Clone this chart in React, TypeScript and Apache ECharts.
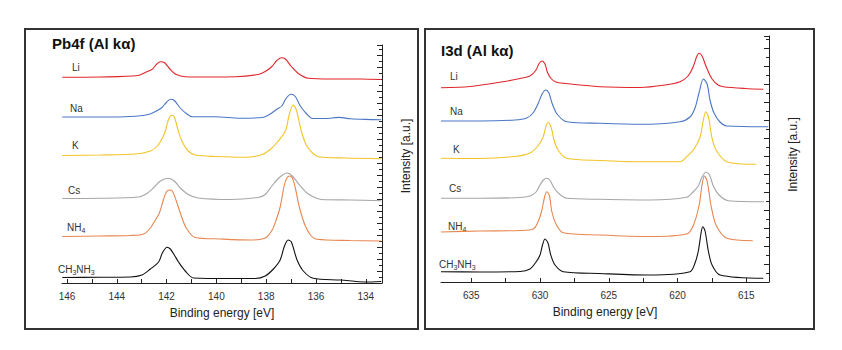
import React, { useEffect, useRef } from "react";
import * as echarts from "echarts";

// ---------- data ----------
const seriesNames = ["Li", "Na", "K", "Cs", "NH4", "CH3NH3"];
const seriesRich = ["{a|Li}", "{a|Na}", "{a|K}", "{a|Cs}", "{a|NH}{s|4}", "{a|CH}{s|3}{a|NH}{s|3}"];
const seriesColors = ["#e0262b", "#4a76c6", "#f2c428", "#a6a6a6", "#e8864f", "#111111"];

// Pb4f panel: [binding energy eV, intensity a.u. (stacked offset)]
const pbLi = [[146.19,205.7],[144.66,206],[143.14,207.5],[142.82,211],[142.59,213.5],[142.41,218.5],[142.25,221.3],[142.09,220.5],[141.85,213.5],[141.61,208.5],[141.25,206.3],[140.24,206],[139.24,206.2],[138.32,208.5],[138.04,211.5],[137.77,216.5],[137.59,222],[137.39,225.3],[137.23,224],[136.99,216.5],[136.71,209.5],[136.31,204.7],[135.43,204],[134.22,204],[133.38,203.5]];
const pbNa = [[146.19,166],[144.66,166],[143.46,166.5],[142.73,168.5],[142.45,171.5],[142.21,175],[142.01,180.5],[141.84,183.7],[141.69,182.5],[141.45,175],[141.21,169.5],[140.97,166.3],[140.04,166.3],[139.04,164.8],[138.16,165.5],[137.84,169],[137.59,173.5],[137.37,177],[137.19,185],[137.0,188.7],[136.83,186.5],[136.63,177],[136.39,169.5],[136.14,164.5],[135.62,164.5],[135.10,165.6],[134.62,164.3],[134.02,163.6],[133.38,163.3]];
const pbK = [[146.19,127.5],[144.66,128],[143.26,129],[142.65,132],[142.37,137],[142.17,145],[142.05,152],[141.93,163],[141.80,167.7],[141.69,166],[141.53,152],[141.37,141],[141.13,132],[140.85,128],[140.04,126.5],[138.84,125.7],[138.16,128.5],[137.84,133.5],[137.55,141],[137.23,152],[137.07,169],[136.92,178],[136.79,173],[136.59,152],[136.39,138],[136.14,130],[135.90,126.3],[134.82,125],[133.38,124.3]];
const pbCs = [[146.19,84.5],[144.66,84.7],[143.14,86],[142.82,89],[142.53,95],[142.25,102],[141.94,104.7],[141.69,102],[141.45,95],[141.13,88.5],[140.73,85],[139.44,83.5],[138.32,85.5],[138.04,88.5],[137.77,97],[137.47,105.5],[137.16,110],[136.95,107],[136.63,97],[136.31,89],[135.76,83.5],[134.62,83],[133.38,82.3]];
const pbNH4 = [[146.19,46.5],[144.66,47],[143.46,47.5],[142.92,49],[142.65,55],[142.45,63],[142.29,70],[142.13,83],[142.01,91],[141.89,93],[141.77,92],[141.61,82],[141.45,70],[141.21,55],[140.85,45.5],[139.84,44],[138.64,43],[138.04,45],[137.76,53],[137.60,63],[137.44,76],[137.28,97],[137.17,105],[137.06,107],[136.95,105],[136.83,95],[136.67,76],[136.43,57],[136.19,47],[135.96,43.7],[134.62,42.5],[133.38,42]];
const pbMA = [[146.19,5.5],[144.66,5.7],[143.46,6],[142.99,8],[142.65,14],[142.32,21],[142.17,30],[141.98,35.7],[141.85,34],[141.69,28],[141.52,21],[141.25,12],[140.92,5],[139.44,4.5],[138.44,4.5],[138.04,7],[137.71,14],[137.44,23],[137.28,36],[137.12,43],[136.99,41],[136.76,23],[136.51,12],[136.11,4.7],[135.02,3],[134.02,1],[133.38,1.5]];

// I3d panel
const iLi = [[637.2,194.3],[635.09,195.5],[632.69,200.3],[631.45,203.5],[630.73,206],[630.29,212],[630.07,218.5],[629.85,221],[629.64,218],[629.47,210],[629.2,203.5],[628.84,200],[628.31,198.7],[625.64,195.3],[622.73,194.5],[620.91,197],[619.82,200.3],[619.24,206],[618.87,215],[618.62,225],[618.44,228.7],[618.22,226],[617.88,214],[617.49,203],[617.05,197],[616.67,195.3],[615.09,193.5],[613.76,192.7]];
const iNa = [[637.2,161],[634.36,161],[631.82,162],[630.97,164],[630.51,169],[630.15,178],[629.85,188],[629.59,192],[629.35,189],[629.13,179],[628.76,168],[628.06,160.3],[625.64,158.7],[622.73,157.7],[619.82,160.3],[619.09,165],[618.73,174],[618.44,189],[618.12,203],[617.85,198],[617.64,182],[617.35,169],[616.91,160],[616.42,156],[613.40,155.3]];
const iK = [[637.2,123.7],[634.36,123.5],[631.82,125.5],[630.73,129],[630.22,135],[629.80,144],[629.6,154],[629.42,159.7],[629.2,155],[628.98,142],[628.69,132],[628.06,123.7],[625.64,121.5],[622.73,120.3],[619.82,120.3],[619.33,125.3],[618.8,133],[618.36,145],[618.15,160],[617.95,170.3],[617.75,165],[617.51,145],[617.2,132],[616.42,120.3],[614.29,117.7]];
const iCs = [[637.2,83.7],[634.36,83.7],[631.45,84.5],[630.73,86],[630.29,90],[630,97],[629.75,102],[629.51,103.7],[629.27,101.5],[628.98,94],[628.55,87.5],[628.06,83.7],[625.64,82.7],[622.0,82],[619.33,84.7],[618.87,90],[618.49,96],[618.22,105],[617.93,109.7],[617.67,107],[617.40,96],[616.98,87],[616.31,81.3],[613.71,80.3]];
const iNH4 = [[637.2,50],[634.36,51],[631.45,51.5],[630.49,53],[630.15,60],[629.88,71],[629.67,85],[629.51,90.3],[629.31,86],[629.15,71],[628.84,58],[628.31,49.3],[625.64,47],[622.0,45.5],[619.33,48],[618.87,56],[618.44,76],[618.22,97],[618.05,106],[617.85,101],[617.56,76],[617.2,57],[616.42,43.7],[614.53,41.3]];
const iMA = [[637.2,10.3],[634.36,10],[631.45,10.5],[630.73,13],[630.29,20],[630,27],[629.82,37],[629.64,43],[629.42,39],[629.22,27],[628.91,17],[628.31,10.3],[625.64,8.5],[622.0,7],[619.09,10.3],[618.73,19],[618.49,31],[618.29,49],[618.17,55.3],[618.0,51],[617.76,31],[617.49,17],[616.91,7],[613.76,3.7]];

const pbTicks = [146,145,144,143,142,141,140,139,138,137,136,135,134];
const pbLabels = [146,144,142,140,138,136,134];
const iTicks = [635,632.5,630,627.5,625,622.5,620,617.5,615];
const iLabels = [635,630,625,620,615];

const pbData = [pbLi, pbNa, pbK, pbCs, pbNH4, pbMA];
const iData = [iLi, iNa, iK, iCs, iNH4, iMA];

const panelTitles = ["Pb4f (Al k\u03b1)", "I3d (Al k\u03b1)"];

// ---------- layout ----------
const FONT = 'Arial, "Liberation Sans", sans-serif';
const pbLabelPos = [[72,67],[70,108],[72,145],[68,190],[67,227],[58,269]];
const iLabelPos = [[450,76],[450,111],[453,149],[449,188],[448,226],[439,264]];

function xAxisCfg(gridIndex: number, min: number, max: number, ticks: number[], labels: number[]) {
  return {
    type: "value",
    gridIndex,
    min,
    max,
    inverse: true,
    position: "bottom",
    name: "Binding energy [eV]",
    nameLocation: "middle",
    nameGap: 24,
    nameTextStyle: { fontFamily: FONT, fontSize: 12, color: "#222" },
    axisLine: { show: true, onZero: false, lineStyle: { color: "#222", width: 1 } },
    axisTick: { show: true, inside: true, length: 4, customValues: ticks, lineStyle: { color: "#222" } },
    axisLabel: { show: true, customValues: labels, fontFamily: FONT, fontSize: 10, color: "#333", margin: 8 },
    splitLine: { show: false },
  };
}

function yAxisCfg(gridIndex: number, max: number, interval: number, shift: number) {
  return {
    type: "value",
    gridIndex,
    min: 0,
    max,
    interval,
    position: "right",
    name: "Intensity [a.u.]",
    nameLocation: "middle",
    nameRotate: 90,
    nameGap: 18,
    nameTextStyle: { fontFamily: FONT, fontSize: 12, color: "#222", padding: [0, 0, 0, shift] },
    axisLine: { show: true, lineStyle: { color: "#222", width: 1 } },
    axisTick: { show: true, inside: true, length: 5, lineStyle: { color: "#222" } },
    minorTick: { show: true, splitNumber: 2, length: 3, lineStyle: { color: "#222" } },
    axisLabel: { show: false },
    splitLine: { show: false },
    minorSplitLine: { show: false },
  };
}

function labelGraphic(rich: string, x: number, y: number) {
  return {
    type: "text",
    x,
    y,
    style: {
      text: rich,
      verticalAlign: "middle",
      fill: "#333",
      rich: {
        a: { fontFamily: FONT, fontSize: 10, lineHeight: 13, fill: "#333" },
        s: { fontFamily: FONT, fontSize: 7, lineHeight: 8, verticalAlign: "bottom", fill: "#333" },
      },
    },
  };
}

export default function App() {
  const ref = useRef<HTMLDivElement>(null);
  useEffect(() => {
    if (!ref.current) return;
    const chart = echarts.init(ref.current, null, { renderer: "svg" });
    const series: any[] = [];
    seriesNames.forEach((n, i) => {
      series.push({
        name: "Pb4f " + n,
        type: "line",
        xAxisIndex: 0,
        yAxisIndex: 0,
        data: pbData[i],
        showSymbol: false,
        smooth: 0.3,
        lineStyle: { color: seriesColors[i], width: 1.1 },
        itemStyle: { color: seriesColors[i] },
      });
      series.push({
        name: "I3d " + n,
        type: "line",
        xAxisIndex: 1,
        yAxisIndex: 1,
        data: iData[i],
        showSymbol: false,
        smooth: 0.3,
        lineStyle: { color: seriesColors[i], width: 1.1 },
        itemStyle: { color: seriesColors[i] },
      });
    });

    const graphics: any[] = [
      { type: "rect", shape: { x: 25, y: 29, width: 393, height: 300 }, style: { fill: "none", stroke: "#333", lineWidth: 2 } },
      { type: "rect", shape: { x: 425, y: 29, width: 389, height: 300 }, style: { fill: "none", stroke: "#333", lineWidth: 2 } },
      { type: "text", x: 52, y: 43, style: { text: panelTitles[0], font: `bold 15px ${FONT}`, fill: "#111", verticalAlign: "middle" } },
      { type: "text", x: 441, y: 50, style: { text: panelTitles[1], font: `bold 15px ${FONT}`, fill: "#111", verticalAlign: "middle" } },
    ];
    seriesRich.forEach((r, i) => {
      graphics.push(labelGraphic(r, pbLabelPos[i][0], pbLabelPos[i][1]));
      graphics.push(labelGraphic(r, iLabelPos[i][0], iLabelPos[i][1]));
    });

    chart.setOption({
      animation: false,
      backgroundColor: "#fff",
      grid: [
        { left: 62, top: 45, width: 320, height: 238 },
        { left: 441, top: 36, width: 328, height: 246 },
      ],
      xAxis: [
        xAxisCfg(0, 133.35, 146.2, pbTicks, pbLabels),
        xAxisCfg(1, 613.35, 637.2, iTicks, iLabels),
      ],
      yAxis: [yAxisCfg(0, 238, 12, 16), yAxisCfg(1, 246, 18, 9)],
      series,
      graphic: graphics,
    });
    return () => chart.dispose();
  }, []);
  return <div ref={ref} style={{ position: "absolute", left: 0, top: 0, width: 842, height: 350 }} />;
}
